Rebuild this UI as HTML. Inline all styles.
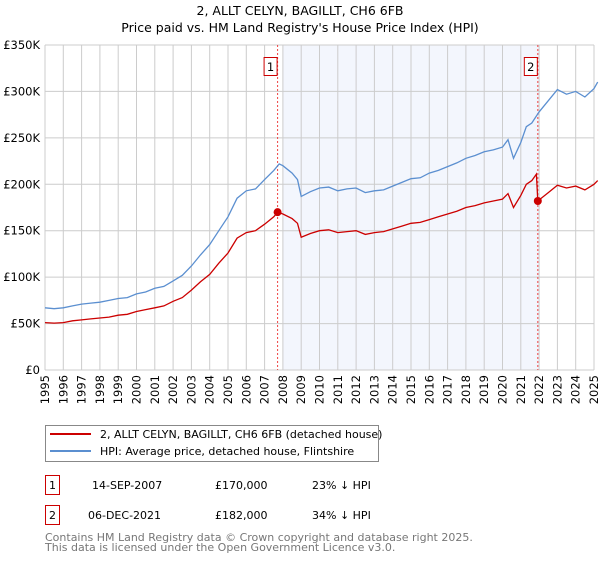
<!DOCTYPE html>
<html><head><meta charset="utf-8"><style>
body{margin:0;background:#fff;font-family:"DejaVu Sans","Liberation Sans",sans-serif;}
svg text{font-family:"DejaVu Sans","Liberation Sans",sans-serif;}
</style></head><body>
<svg id="chart" width="600" height="560" viewBox="0 0 600 560" xmlns="http://www.w3.org/2000/svg">
<text x="300" y="15" text-anchor="middle" font-size="12.5" fill="#000">2, ALLT CELYN, BAGILLT, CH6 6FB</text>
<text x="300" y="32" text-anchor="middle" font-size="12.5" fill="#000">Price paid vs. HM Land Registry's House Price Index (HPI)</text>
<g id="plot"></g>
<g>
<rect x="45.5" y="425.5" width="333" height="36" fill="#fff" stroke="#888"/>
<line x1="50" y1="434" x2="91" y2="434" stroke="#cc0000" stroke-width="2"/>
<text x="100" y="438" font-size="11">2, ALLT CELYN, BAGILLT, CH6 6FB (detached house)</text>
<line x1="50" y1="451" x2="91" y2="451" stroke="#5b8fd0" stroke-width="2"/>
<text x="100" y="455" font-size="11">HPI: Average price, detached house, Flintshire</text>
</g>
<g font-size="11">
<rect x="45.5" y="475.5" width="14" height="19" fill="#fff" stroke="#cc0000"/>
<text x="52.5" y="489" text-anchor="middle">1</text>
<text x="92" y="489">14-SEP-2007</text>
<text x="215" y="489">£170,000</text>
<text x="312" y="489">23% ↓ HPI</text>
<rect x="45.5" y="505.5" width="14" height="19" fill="#fff" stroke="#cc0000"/>
<text x="52.5" y="519" text-anchor="middle">2</text>
<text x="88" y="519">06-DEC-2021</text>
<text x="215" y="519">£182,000</text>
<text x="312" y="519">34% ↓ HPI</text>
</g>
<text x="45" y="541" font-size="11" fill="#777">Contains HM Land Registry data © Crown copyright and database right 2025.</text>
<text x="45" y="551" font-size="11" fill="#777">This data is licensed under the Open Government Licence v3.0.</text>
</svg>
<script>
const yTicks=[0,50,100,150,200,250,300,350];
const yTickLabels=["£0","£50K","£100K","£150K","£200K","£250K","£300K","£350K"];
const years=[1995,1996,1997,1998,1999,2000,2001,2002,2003,2004,2005,2006,2007,2008,2009,2010,2011,2012,2013,2014,2015,2016,2017,2018,2019,2020,2021,2022,2023,2024,2025];
const hpiT=[1995,1995.5,1996,1996.5,1997,1997.5,1998,1998.5,1999,1999.5,2000,2000.5,2001,2001.5,2002,2002.5,2003,2003.5,2004,2004.5,2005,2005.5,2006,2006.5,2007,2007.5,2007.8,2008,2008.5,2008.8,2009,2009.5,2010,2010.5,2011,2011.5,2012,2012.5,2013,2013.5,2014,2014.5,2015,2015.5,2016,2016.5,2017,2017.5,2018,2018.5,2019,2019.5,2020,2020.3,2020.6,2021,2021.3,2021.6,2022,2022.5,2023,2023.5,2024,2024.5,2025,2025.2];
const hpiV=[67,66,67,69,71,72,73,75,77,78,82,84,88,90,96,102,112,124,135,150,165,185,193,195,205,215,222,220,212,205,187,192,196,197,193,195,196,191,193,194,198,202,206,207,212,215,219,223,228,231,235,237,240,248,228,245,262,266,278,290,302,297,300,294,303,310];
const priceT=[1995,1995.5,1996,1996.5,1997,1997.5,1998,1998.5,1999,1999.5,2000,2000.5,2001,2001.5,2002,2002.5,2003,2003.5,2004,2004.5,2005,2005.5,2006,2006.5,2007,2007.5,2007.71,2008,2008.5,2008.8,2009,2009.5,2010,2010.5,2011,2011.5,2012,2012.5,2013,2013.5,2014,2014.5,2015,2015.5,2016,2016.5,2017,2017.5,2018,2018.5,2019,2019.5,2020,2020.3,2020.6,2021,2021.3,2021.6,2021.85,2021.93,2022.5,2023,2023.5,2024,2024.5,2025,2025.2];
const priceV=[51,50.5,51,53,54,55,56,57,59,60,63,65,67,69,74,78,86,95,103,115,126,142,148,150,157,165,170,168,163,158,143,147,150,151,148,149,150,146,148,149,152,155,158,159,162,165,168,171,175,177,180,182,184,190,175,188,200,204,211,182,191,199,196,198,194,200,204];
const saleT=[2007.71,2021.93];
const saleV=[170,182];
const saleLabels=["1","2"];
const shadeRange=[2008,2022];

const X0=45,X1=594,Y0=370,Y1=45;
const xs=t=>X0+(t-1995)/30*(X1-X0);
const ys=v=>Y0-v/350*(Y0-Y1);
const NS="http://www.w3.org/2000/svg";
const g=document.getElementById('plot');
function mk(tag,attrs){const e=document.createElementNS(NS,tag);for(const k in attrs)e.setAttribute(k,attrs[k]);g.appendChild(e);return e;}
let e;
e=mk('rect',{x:xs(shadeRange[0]),y:Y1,width:xs(shadeRange[1])-xs(shadeRange[0]),height:Y0-Y1,fill:'#f3f6fd'});


years.forEach(y=>{e=mk('line',{x1:xs(y),x2:xs(y),y1:Y1,y2:Y0,stroke:'#cccccc','stroke-width':1});


e=mk('text',{x:0,y:0,transform:`translate(${xs(y)+4},375) rotate(-90)`,'text-anchor':'end','font-size':11.5});
e.textContent=y;

});
yTicks.forEach((v,i)=>{e=mk('line',{x1:X0,x2:X1,y1:ys(v),y2:ys(v),stroke:'#cccccc','stroke-width':1});


e=mk('text',{x:X0-5,y:ys(v)+4,'text-anchor':'end','font-size':11.5});
e.textContent=yTickLabels[i];

});
saleT.forEach((t,i)=>{e=mk('line',{x1:xs(t),x2:xs(t),y1:Y1,y2:Y0,stroke:'#ee4444','stroke-width':1,'stroke-dasharray':'2,2'});


e=mk('rect',{x:xs(t)-13.5,y:57.5,width:13,height:18,fill:'#fff',stroke:'#cc0000'});


e=mk('text',{x:xs(t)-7,y:71,'text-anchor':'middle','font-size':11.5});
e.textContent=saleLabels[i];

});
const path=(T,V)=>T.map((t,i)=>(i?'L':'M')+xs(t).toFixed(1)+','+ys(V[i]).toFixed(1)).join(' ');
e=mk('path',{d:path(hpiT,hpiV),fill:'none',stroke:'#5b8fd0','stroke-width':1.3});


e=mk('path',{d:path(priceT,priceV),fill:'none',stroke:'#cc0000','stroke-width':1.3});


saleT.forEach((t,i)=>{e=mk('circle',{cx:xs(t),cy:ys(saleV[i]),r:4,fill:'#cc0000'});

});
</script>
</body></html>
